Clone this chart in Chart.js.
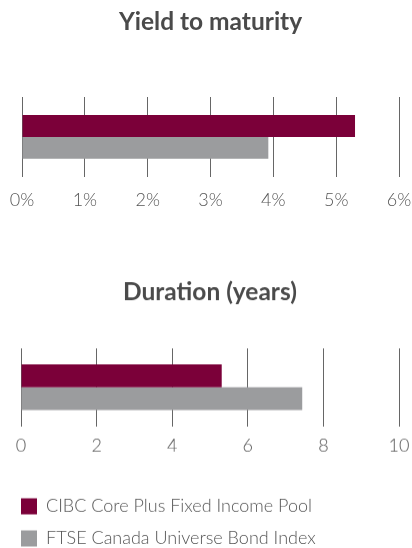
<!DOCTYPE html>
<html>
<head>
<meta charset="utf-8">
<script src="https://cdn.jsdelivr.net/npm/chart.js@4.4.1/dist/chart.umd.min.js"></script>
<style>
  html, body { margin: 0; padding: 0; background: #fff; overflow: hidden; width: 412px; height: 548px; }
  .box { position: absolute; }
  #yieldBox { top: 0; left: -3px; width: 433px; height: 224px; }
  #durationBox { top: 250px; left: 0; width: 430px; height: 306.5px; }
</style>
</head>
<body>
<div class="box" id="yieldBox"><canvas id="yieldChart"></canvas></div>
<div class="box" id="durationBox"><canvas id="durationChart"></canvas></div>
<script>
// Data
const seriesNames = ['CIBC Core Plus Fixed Income Pool', 'FTSE Canada Universe Bond Index'];
const yieldValues = [5.30, 3.92];
const durationValues = [5.31, 7.44];
const yieldTicks = [0, 1, 2, 3, 4, 5, 6];
const durationTicks = [0, 2, 4, 6, 8, 10];

const barColors = ['#7b0039', '#9b9c9e'];
const fontFamily = 'Lato, "Open Sans", sans-serif';

function makeDatasets(values) {
  return seriesNames.map((name, i) => ({
    label: name,
    data: [values[i]],
    backgroundColor: barColors[i],
    borderWidth: 0
  }));
}

function makeOptions(cfg) {
  return {
    indexAxis: 'y',
    responsive: true,
    maintainAspectRatio: false,
    animation: false,
    layout: { padding: { left: 7, right: 31, top: 0, bottom: 0 } },
    datasets: { bar: { categoryPercentage: cfg.catPct, barPercentage: 1 } },
    plugins: {
      tooltip: { enabled: false },
      title: {
        display: true,
        fullSize: false,
        text: cfg.title,
        color: '#4a4a4a',
        font: { family: fontFamily, size: 24.5, weight: 'bold' },
        padding: { top: cfg.titleTop, bottom: cfg.titleBottom }
      },
      legend: {
        display: cfg.legend,
        position: 'bottom',
        align: 'start',
        labels: {
          boxWidth: 16,
          boxHeight: 16,
          padding: 14,
          color: '#555',
          font: { family: fontFamily, size: 18, weight: '300' }
        }
      }
    },
    scales: {
      x: {
        min: cfg.ticks[0],
        max: cfg.ticks[cfg.ticks.length - 1],
        afterBuildTicks: (scale) => { scale.ticks = cfg.ticks.map(v => ({ value: v })); },
        grid: { color: '#666', lineWidth: 1, drawTicks: false },
        border: { display: false },
        ticks: {
          padding: cfg.tickPad,
          color: '#555',
          font: { family: fontFamily, size: 18, weight: '300' },
          callback: (v) => v + cfg.suffix
        },
        afterFit: (scale) => { scale.height += cfg.axisExtra; }
      },
      y: {
        grid: { display: false },
        border: { display: false },
        ticks: { display: false },
        afterFit: (scale) => { scale.width = 14; }
      }
    }
  };
}

new Chart(document.getElementById('yieldChart'), {
  type: 'bar',
  data: { labels: [''], datasets: makeDatasets(yieldValues) },
  options: makeOptions({
    title: 'Yield to maturity', ticks: yieldTicks, suffix: '%',
    titleTop: 7.8, titleBottom: 59.8, tickPad: 12.8,
    catPct: 0.55, legend: false, axisExtra: 0
  })
});

new Chart(document.getElementById('durationChart'), {
  type: 'bar',
  data: { labels: [''], datasets: makeDatasets(durationValues) },
  options: makeOptions({
    title: 'Duration (years)', ticks: durationTicks, suffix: '',
    titleTop: 27.3, titleBottom: 41.3, tickPad: 8.8,
    catPct: 0.59, legend: true, axisExtra: 17.8
  })
});
</script>
</body>
</html>
